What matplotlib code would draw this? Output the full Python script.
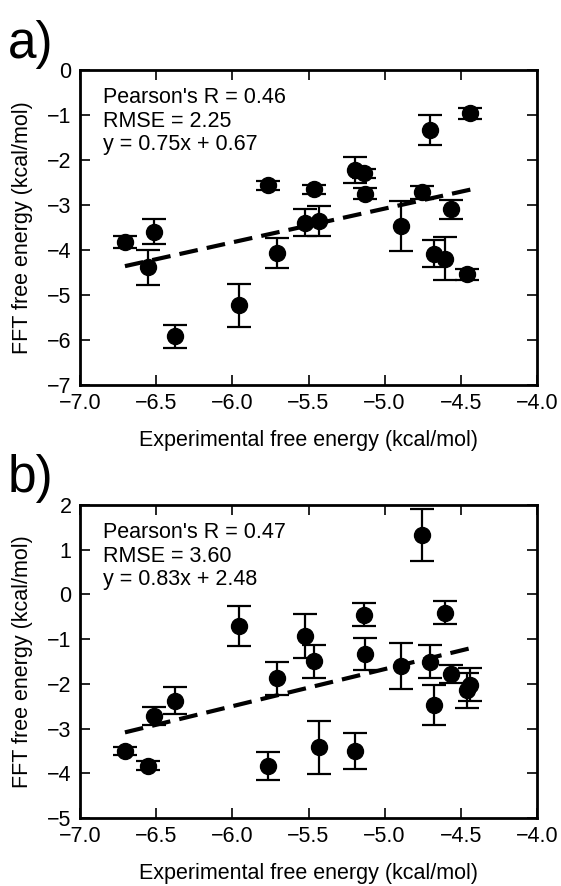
import matplotlib
matplotlib.use("Agg")
import matplotlib.pyplot as plt
import numpy as np

plt.rcParams['font.family'] = ['Liberation Sans', 'DejaVu Sans']

# experimental free energies (same compounds in both panels)
exp_dg = [-6.705, -6.555, -6.515, -6.376, -5.955, -5.764, -5.707, -5.523,
          -5.465, -5.428, -5.192, -5.135, -5.130, -4.894, -4.756, -4.705,
          -4.675, -4.601, -4.565, -4.460, -4.437]

# panel a: FFT free energies and error bars
fft_a = [-3.82, -4.38, -3.59, -5.92, -5.23, -2.56, -4.06, -3.39,
         -2.65, -3.36, -2.23, -2.29, -2.75, -3.47, -2.72, -1.34,
         -4.08, -4.19, -3.10, -4.54, -0.96]
err_a = [0.13, 0.39, 0.28, 0.26, 0.48, 0.10, 0.33, 0.29,
         0.10, 0.34, 0.29, 0.10, 0.12, 0.55, 0.15, 0.33,
         0.30, 0.48, 0.22, 0.12, 0.12]

# panel b
fft_b = [-3.50, -3.83, -2.72, -2.38, -0.71, -3.83, -1.88, -0.93,
         -1.49, -3.42, -3.50, -0.45, -1.34, -1.60, 1.32, -1.50,
         -2.48, -0.41, -1.78, -2.14, -2.02]
err_b = [0.08, 0.10, 0.21, 0.30, 0.45, 0.31, 0.36, 0.50,
         0.37, 0.60, 0.41, 0.26, 0.36, 0.51, 0.58, 0.36,
         0.45, 0.26, 0.20, 0.39, 0.37]

panels = [
    ("a)", fft_a, err_a, 0.75, 0.67, "Pearson's R = 0.46\nRMSE = 2.25\ny = 0.75x + 0.67",
     (-7, 0), np.arange(-7, 1, 1)),
    ("b)", fft_b, err_b, 0.83, 2.48, "Pearson's R = 0.47\nRMSE = 3.60\ny = 0.83x + 2.48",
     (-5, 2), np.arange(-5, 3, 1)),
]

W, H = 561, 886
fig = plt.figure(figsize=(W / 100, H / 100), dpi=100)

axes_px = [(80, 70, 537, 385), (80, 505, 537, 818)]   # left, top, right, bottom
label_px = [(8, 58), (8, 492)]

for (lab, yv, ev, slope, icpt, txt, ylim, yticks), (l, t, r, b), (lx, ly) in zip(
        panels, axes_px, label_px):
    ax = fig.add_axes([l / W, 1 - b / H, (r - l) / W, (b - t) / H])
    ax.errorbar(exp_dg, yv, yerr=ev, fmt="o", color="black", ms=11.5,
                elinewidth=1.6, capsize=8.5, capthick=1.6, zorder=3)
    xs = np.array([min(exp_dg), max(exp_dg)])
    ax.plot(xs, slope * xs + icpt, color="black", lw=3, dashes=(4.5, 2.2),
            zorder=2)
    ax.text(0.05, 0.945, txt, transform=ax.transAxes, ha="left", va="top",
            fontsize=15.5, linespacing=1.15)
    ax.set_xlim(-7, -4)
    ax.set_ylim(*ylim)
    ax.set_xticks(np.arange(-7, -3.9, 0.5))
    ax.set_yticks(yticks)
    ax.set_xticklabels([f"{v:.1f}".replace("-", "\u2212") for v in np.arange(-7, -3.9, 0.5)])
    ax.tick_params(direction="in", top=True, right=True, length=7, width=1.2,
                   labelsize=15.5, pad=6)
    for s in ax.spines.values():
        s.set_linewidth(2)
    ax.set_xlabel("Experimental free energy (kcal/mol)", fontsize=15.5, labelpad=11)
    ax.set_ylabel("FFT free energy (kcal/mol)", fontsize=15.5, labelpad=10)
    fig.text(lx / W, 1 - ly / H, lab, fontsize=37, ha="left", va="baseline")

fig.savefig("out.png", dpi=100)
